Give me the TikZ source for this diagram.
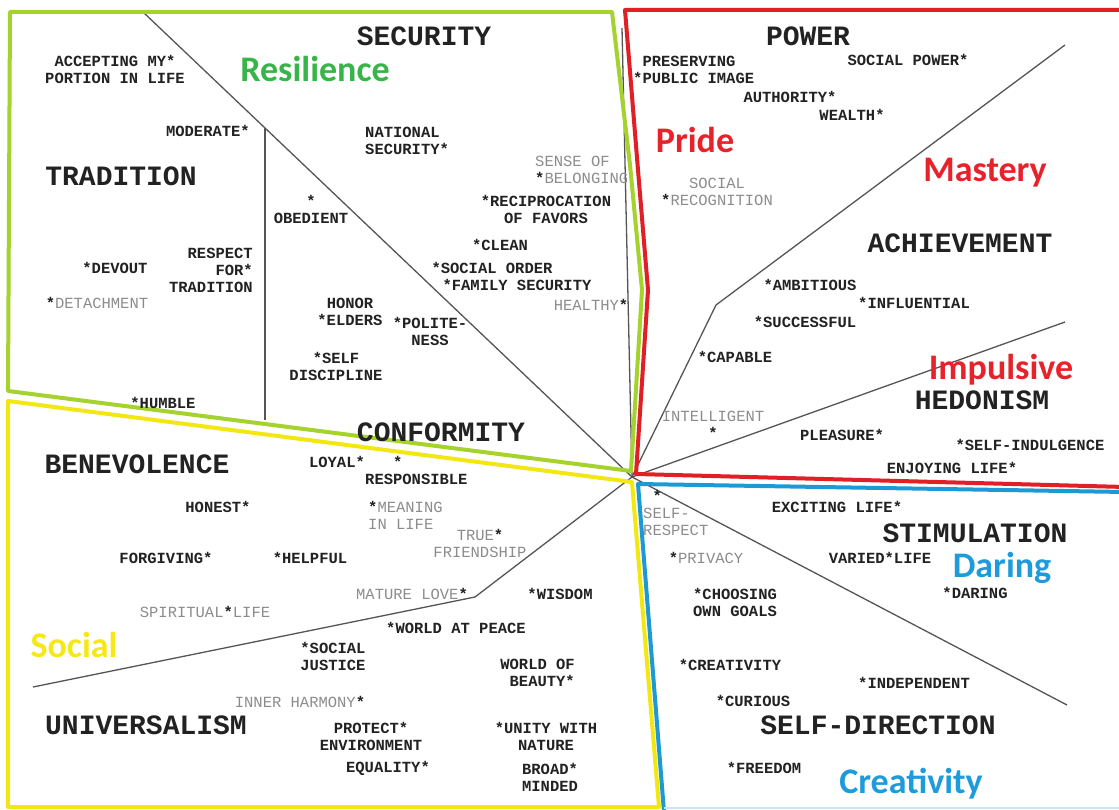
\documentclass[tikz,border=0pt]{standalone}
\usepackage{fontspec}
\setmainfont{Liberation Mono}
\newfontfamily\tagfont{Carlito}
\definecolor{ink}{HTML}{222222}
\definecolor{softgray}{HTML}{8C8C8C}
\definecolor{linegray}{HTML}{555555}
\definecolor{rimgreen}{HTML}{A5D22D}
\definecolor{rimyellow}{HTML}{F3E712}
\definecolor{rimred}{HTML}{E11F26}
\definecolor{rimblue}{HTML}{1D9AD6}
\definecolor{tgreen}{HTML}{38B449}
\definecolor{tred}{HTML}{E6232B}
\definecolor{tyellow}{HTML}{F6E816}
\definecolor{tblue}{HTML}{1E9BDB}
\newcommand\inkstar{\textcolor{ink}{\bfseries *}}
\tikzset{
  lbl/.style={font=\fontsize{15.5}{17}\selectfont\bfseries, text=ink, inner sep=0pt, align=center},
  glbl/.style={font=\fontsize{15.5}{17}\selectfont, text=softgray, inner sep=0pt, align=center},
  head/.style={font=\fontsize{28}{30}\selectfont\bfseries, text=ink, inner sep=0pt},
  tag/.style={font=\tagfont\fontsize{36}{38}\selectfont\bfseries, inner sep=0pt},
  sep/.style={draw=linegray, line width=1.3pt},
  rim/.style={line width=4pt, line join=round, line cap=round},
}
\begin{document}
\begin{tikzpicture}[x=1pt,y=-1pt]
\useasboundingbox (0,0) rectangle (1119,810);
\fill[white] (0,0) rectangle (1119,810);
\clip (0,0) rectangle (1119,810);

% hub and sector end points
\coordinate (c) at (632,477);
\coordinate (tl) at (143,12);
\coordinate (vtop) at (265,128);
\coordinate (vbot) at (265,420);
\coordinate (tn) at (622,28);
\coordinate (pk) at (716,305);
\coordinate (pe) at (1065,45);
\coordinate (he) at (1065,322);
\coordinate (se) at (1067,705);
\coordinate (uk) at (475,597);
\coordinate (ue) at (33,687);

% sector separators
\draw[sep] (c) -- (tl);
\draw[sep] (vtop) -- (vbot);
\draw[sep] (tn) -- (c);
\draw[sep] (c) -- (pk) -- (pe);
\draw[sep] (c) -- (he);
\draw[sep] (c) -- (se);
\draw[sep] (c) -- (uk) -- (ue);

% quadrant outlines
\draw[rim, draw=rimgreen] (10,12) -- (612,12) -- (630,165) -- (642,290) -- (631,471) -- (8,391) -- (9,200) -- cycle;
\draw[rim, draw=rimyellow] (8,401) -- (632,482) -- (659,807) -- (8,807) -- cycle;
\draw[rim, draw=rimred] (1125,10) -- (625,10) -- (638,170) -- (648,290) -- (636,474) -- (1125,487);
\draw[rim, draw=rimblue] (1125,492) -- (638,484) -- (664,812);
\draw[line width=1.2pt, draw=rimblue!25] (664,808) -- (1125,808);

% value types
\node[head] (security) at (424,36) {SECURITY};
\node[head] (tradition) at (121,176) {TRADITION};
\node[head] (conformity) at (441,432) {CONFORMITY};
\node[head] (benevolence) at (137,464) {BENEVOLENCE};
\node[head] (universalism) at (146,725) {UNIVERSALISM};
\node[head] (power) at (808,36) {POWER};
\node[head] (achievement) at (960,243) {ACHIEVEMENT};
\node[head] (hedonism) at (982,400) {HEDONISM};
\node[head] (stimulation) at (975,533) {STIMULATION};
\node[head] (selfdirection) at (878,725) {SELF-DIRECTION};

% quadrant names
\node[tag, text=tgreen] (resilience) at (315,69) {Resilience};
\node[tag, text=tred] (pride) at (695,140) {Pride};
\node[tag, text=tred] (mastery) at (985,173) {Mastery};
\node[tag, text=tred] (impulsive) at (1001,370) {Impulsive};
\node[tag, text=tyellow] (social) at (74,645) {Social};
\node[tag, text=tblue] (daring) at (1002,568) {Daring};
\node[tag, text=tblue] (creativity) at (911,784) {Creativity};

% tradition
\node[lbl] (accepting) at (115,69) {ACCEPTING MY*\\PORTION IN LIFE};
\node[lbl, anchor=east] (moderate) at (250,131) {MODERATE*};
\node[lbl] (devout) at (115,268) {*DEVOUT};
\node[lbl, align=right, anchor=east] (respect) at (253,270) {RESPECT\\FOR*\\TRADITION};
\node[glbl] (detachment) at (97,303) {\inkstar DETACHMENT};
\node[lbl] (humble) at (163,403) {*HUMBLE};

% conformity and security
\node[lbl] (obedient) at (311,209) {*\\OBEDIENT};
\node[lbl, align=left, anchor=west] (national) at (365,141) {NATIONAL\\SECURITY*};
\node[glbl, align=left, anchor=west] (belonging) at (535,170) {SENSE OF\\\inkstar BELONGING};
\node[lbl] (reciprocation) at (546,209) {*RECIPROCATION\\OF FAVORS};
\node[lbl] (clean) at (500,245) {*CLEAN};
\node[lbl] (socialorder) at (492,268) {*SOCIAL ORDER};
\node[lbl] (family) at (517,285) {*FAMILY SECURITY};
\node[glbl] (healthy) at (591,305) {HEALTHY\inkstar};
\node[lbl] (elders) at (350,312) {HONOR\\*ELDERS};
\node[lbl] (politeness) at (430,331) {*POLITE-\\NESS};
\node[lbl] (selfdisc) at (336,366) {*SELF\\DISCIPLINE};
\node[lbl] (loyal) at (337,462) {LOYAL*};
\node[lbl, align=left, anchor=west] (responsible) at (365,470) {\phantom{RES}*\\RESPONSIBLE};

% power
\node[lbl, align=left, anchor=west] (image) at (633,69) {\phantom{*}PRESERVING\\*PUBLIC IMAGE};
\node[lbl] (socialpower) at (908,60) {SOCIAL POWER*};
\node[lbl] (authority) at (790,97) {AUTHORITY*};
\node[lbl] (wealth) at (852,115) {WEALTH*};
\node[glbl] (recognition) at (717,192) {SOCIAL\\\inkstar RECOGNITION};

% achievement
\node[lbl] (ambitious) at (810,285) {*AMBITIOUS};
\node[lbl] (influential) at (914,303) {*INFLUENTIAL};
\node[lbl] (successful) at (805,322) {*SUCCESSFUL};
\node[lbl] (capable) at (735,357) {*CAPABLE};
\node[glbl] (intelligent) at (713,425) {INTELLIGENT\\\inkstar};

% hedonism
\node[lbl] (pleasure) at (842,435) {PLEASURE*};
\node[lbl] (indulgence) at (1030,445) {*SELF-INDULGENCE};
\node[lbl] (enjoying) at (952,468) {ENJOYING LIFE*};

% benevolence
\node[lbl] (honest) at (218,507) {HONEST*};
\node[lbl] (forgiving) at (166,558) {FORGIVING*};
\node[lbl] (helpful) at (310,558) {*HELPFUL};
\node[glbl] (spiritual) at (205,612) {SPIRITUAL\inkstar LIFE};
\node[glbl, align=left, anchor=west] (meaning) at (368,515) {\inkstar MEANING\\IN LIFE};
\node[glbl] (friendship) at (480,543) {TRUE\inkstar\\FRIENDSHIP};
\node[glbl] (maturelove) at (412,594) {MATURE LOVE\inkstar};

% universalism
\node[lbl] (wisdom) at (560,594) {*WISDOM};
\node[lbl] (peace) at (456,628) {*WORLD AT PEACE};
\node[lbl] (justice) at (333,656) {*SOCIAL\\JUSTICE};
\node[glbl] (harmony) at (300,702) {INNER HARMONY\inkstar};
\node[lbl, align=right, anchor=east] (beauty) at (575,673) {WORLD OF\\BEAUTY*};
\node[lbl] (environment) at (371,736) {PROTECT*\\ENVIRONMENT};
\node[lbl] (nature) at (546,736) {*UNITY WITH\\NATURE};
\node[lbl] (equality) at (388,768) {EQUALITY*};
\node[lbl] (broad) at (550,777) {BROAD*\\MINDED};

% stimulation and self-direction
\node[glbl, align=left, anchor=west] (selfrespect) at (643,513) {\phantom{S}\inkstar\\SELF-\\RESPECT};
\node[lbl] (exciting) at (837,507) {EXCITING LIFE*};
\node[glbl] (privacy) at (706,558) {\inkstar PRIVACY};
\node[lbl] (varied) at (880,558) {VARIED*LIFE};
\node[lbl] (daringv) at (975,593) {*DARING};
\node[lbl] (goals) at (735,602) {*CHOOSING\\OWN GOALS};
\node[lbl] (creativityv) at (730,665) {*CREATIVITY};
\node[lbl] (independent) at (914,683) {*INDEPENDENT};
\node[lbl] (curious) at (753,701) {*CURIOUS};
\node[lbl] (freedom) at (764,768) {*FREEDOM};
\end{tikzpicture}
\end{document}
